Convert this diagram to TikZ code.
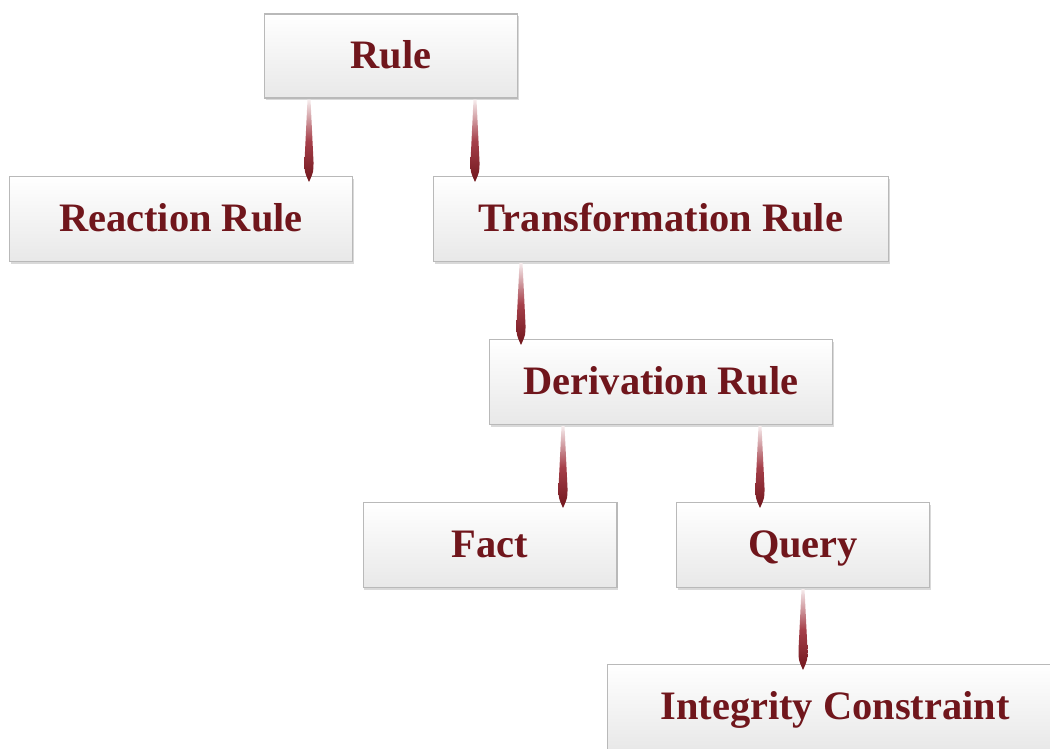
\documentclass[tikz,border=0pt]{standalone}
\usepackage{fontspec}
\setmainfont{Liberation Serif}
\usepackage{tikz}
\definecolor{rulered}{RGB}{112,22,28}
\definecolor{linkred}{RGB}{150,30,42}
\usetikzlibrary{calc}
\usetikzlibrary{shadows}

% tapered drop link, from parent to child at a given x
\newcommand\wedgelink[3]{%
  \coordinate (top) at (#1.south -| #3,0);
  \coordinate (tip) at (#2.north -| #3,0);
  \shade[link] ($(top)+(-1.5,1)$) -- ($(top)+(1.5,1)$) -- ($(tip)+(4.5,-14)$)
    .. controls ($(tip)+(4.5,-4)$) .. ($(tip)+(0,6)$)
    .. controls ($(tip)+(-4.5,-4)$) .. ($(tip)+(-4.5,-14)$) -- cycle;
}

\begin{document}
\begin{tikzpicture}[x=0.02cm,y=-0.02cm,
    box/.style={draw=gray!55, line width=0.6pt, top color=white,
      bottom color=gray!18, inner sep=0pt, text height=18pt, text depth=4pt,
      drop shadow={opacity=0.3, shadow xshift=0.6pt, shadow yshift=-1.2pt},
      font=\fontsize{23}{27}\selectfont\bfseries, text=rulered},
    link/.style={top color=linkred!8, bottom color=rulered, middle color=linkred!85}
]
\useasboundingbox (0,0) rectangle (1050,748);

\node[box, minimum width=5.06cm, minimum height=1.68cm] (rule) at (391,56) {Rule};
\node[box, minimum width=6.86cm, minimum height=1.70cm] (reaction) at (181,219) {Reaction Rule};
\node[box, minimum width=9.10cm, minimum height=1.70cm] (transform) at (661,219) {Transformation Rule};
\node[box, minimum width=6.86cm, minimum height=1.70cm] (derivation) at (661,382) {Derivation Rule};
\node[box, minimum width=5.08cm, minimum height=1.70cm] (fact) at (490,545) {Fact};
\node[box, minimum width=5.06cm, minimum height=1.70cm] (query) at (803,545) {Query};
\node[box, minimum width=9.10cm, minimum height=1.70cm] (integrity) at (835,707) {Integrity Constraint};

\wedgelink{rule}{reaction}{309}
\wedgelink{rule}{transform}{475}
\wedgelink{transform}{derivation}{521}
\wedgelink{derivation}{fact}{563}
\wedgelink{derivation}{query}{760}
\wedgelink{query}{integrity}{803}
\end{tikzpicture}
\end{document}
